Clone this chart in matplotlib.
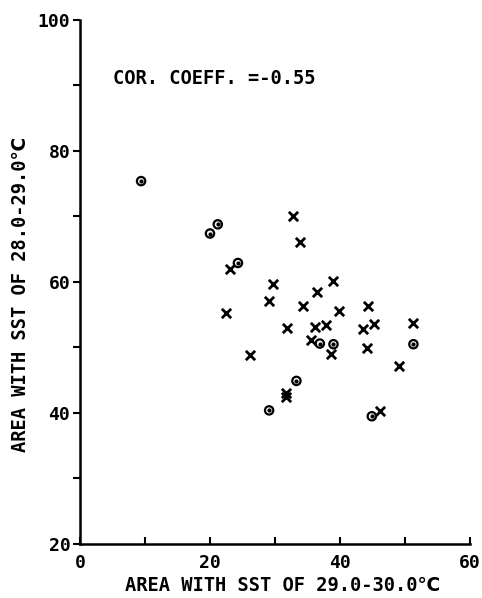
import matplotlib
matplotlib.use("Agg")
import matplotlib.pyplot as plt
from matplotlib.ticker import MultipleLocator

plt.rcParams['font.family'] = ['DejaVu Sans Mono', 'DejaVu Sans']

# X-marked years
cross_x = [23.1, 32.8, 33.8, 29.7, 29.1, 22.4, 36.5, 38.9, 34.3, 39.9, 31.9, 36.2, 37.9,
           44.3, 43.5, 45.2, 51.2, 35.6, 38.6, 44.2, 26.2, 49.1, 31.7, 31.7, 46.1]
cross_y = [62.0, 70.1, 66.1, 59.7, 57.1, 55.3, 58.5, 60.1, 56.4, 55.5, 53.0, 53.1, 53.4,
           56.3, 52.8, 53.6, 53.7, 51.1, 49.0, 49.9, 48.9, 47.2, 43.1, 42.5, 40.3]
# circle-marked years
circ_x = [9.4, 20.0, 21.2, 24.3, 36.9, 39.0, 51.3, 33.3, 29.1, 44.9]
circ_y = [75.4, 67.4, 68.8, 62.9, 50.6, 50.5, 50.5, 44.9, 40.4, 39.5]

corr_text = "COR. COEFF. =-0.55"
xlabel = "AREA WITH SST OF 29.0-30.0\u2103"
ylabel = "AREA WITH SST OF 28.0-29.0\u2103"

fig = plt.figure(figsize=(4.82, 5.98), dpi=100)
ax = fig.add_axes([0.166, 0.0903, 0.809, 0.8763])

ax.scatter(cross_x, cross_y, marker='x', s=45, c='black', linewidths=2.0, zorder=3)
ax.scatter(circ_x, circ_y, marker='o', s=36, facecolors='none', edgecolors='black',
           linewidths=1.6, zorder=3)
ax.scatter(circ_x, circ_y, marker='o', s=4, c='black', zorder=4)

ax.set_xlim(0, 60)
ax.set_ylim(20, 100)
ax.xaxis.set_major_locator(MultipleLocator(20))
ax.xaxis.set_minor_locator(MultipleLocator(10))
ax.yaxis.set_major_locator(MultipleLocator(20))
ax.yaxis.set_minor_locator(MultipleLocator(10))

for s in ['top', 'right']:
    ax.spines[s].set_visible(False)
for s in ['left', 'bottom']:
    ax.spines[s].set_linewidth(1.8)

ax.tick_params(axis='x', which='both', direction='in', length=5, width=1.5,
               labelsize=13, pad=7)
ax.tick_params(axis='y', which='both', direction='out', length=5, width=1.5,
               labelsize=13, pad=2)
for lab in ax.get_xticklabels() + ax.get_yticklabels():
    lab.set_fontweight('bold')

ax.set_xlabel(xlabel, fontsize=13.5, fontweight='bold')
ax.set_ylabel(ylabel, fontsize=13.5, fontweight='bold')
ax.xaxis.set_label_coords(0.519, -0.062)
ax.yaxis.set_label_coords(-0.128, 0.477)

ax.text(5.1, 91, corr_text, fontsize=13.5, fontweight='bold', va='center', ha='left')

fig.savefig("out.png", dpi=100)
